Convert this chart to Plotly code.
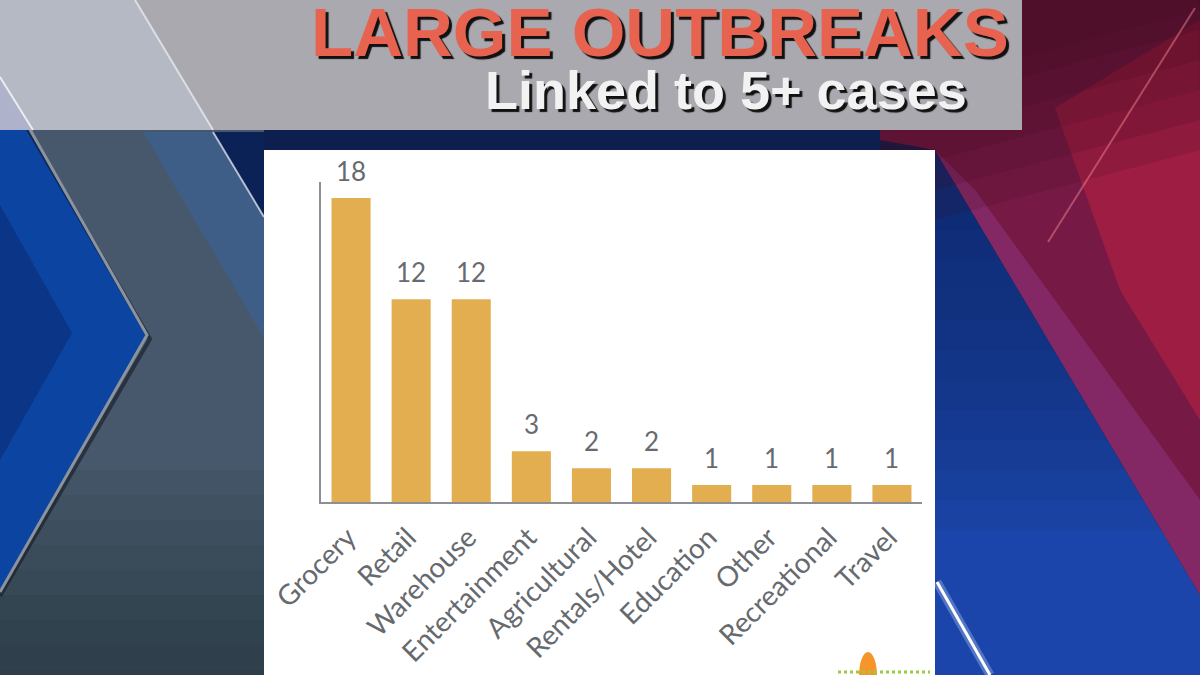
import plotly.graph_objects as go

categories = ["Grocery", "Retail", "Warehouse", "Entertainment", "Agricultural",
              "Rentals/Hotel", "Education", "Other", "Recreational", "Travel"]
outbreaks = [18, 12, 12, 3, 2, 2, 1, 1, 1, 1]
title_text = "LARGE OUTBREAKS"
subtitle_text = "Linked to 5+ cases"

W, H = 1200, 675
L, R, T, B = 321, 278, 182, 173
PW = W - L - R
PH = H - T - B


def px(x):
    return (x - L) / PW


def py(y):
    return (H - B - y) / PH


def poly(pts, color, opacity=1.0):
    d = "M " + " L ".join(f"{px(x):.5f},{py(y):.5f}" for x, y in pts) + " Z"
    return dict(type="path", xref="paper", yref="paper", path=d, fillcolor=color,
                line=dict(width=0), layer="below", opacity=opacity)


def polyline(pts, color, width):
    d = "M " + " L ".join(f"{px(x):.5f},{py(y):.5f}" for x, y in pts)
    return dict(type="path", xref="paper", yref="paper", path=d,
                fillcolor="rgba(0,0,0,0)", line=dict(color=color, width=width), layer="below")


def rect(x0, y0, x1, y1, color, opacity=1.0):
    return dict(type="rect", xref="paper", yref="paper", x0=px(x0), y0=py(y0), x1=px(x1), y1=py(y1),
                fillcolor=color, line=dict(width=0), layer="below", opacity=opacity)


def seg(x0, y0, x1, y1, color, width):
    return dict(type="line", xref="paper", yref="paper", x0=px(x0), y0=py(y0), x1=px(x1), y1=py(y1),
                line=dict(color=color, width=width), layer="below")


# blue/red boundary on the right: from (935,150) to (1200,595)
def bx(y):
    return 935 + (y - 150) * (265 / 445)


shapes = [rect(0, 0, 1200, 675, "#0C1F4E")]
# right side blue with gradient (dark near top)
shapes.append(poly([(935, 150), (1200, 595), (1200, 675), (935, 675)], "#1B45AA"))
for yb in range(200, 560, 30):
    shapes.append(poly([(935, 150), (bx(yb), yb), (935, yb)], "#0A1E5A", 0.085))
# red region
shapes.append(poly([(880, 0), (1200, 0), (1200, 595), (935, 150), (880, 140)], "#761A45"))
shapes.append(poly([(975, 190), (1200, 500), (1200, 595), (935, 150)], "#862A68", 0.9))
shapes.append(poly([(1055, 108), (1200, 20), (1200, 420), (1120, 290)], "#A31E43", 0.9))
for yb in (150, 120, 90, 60, 30, 10):
    shapes.append(poly([(880, 0), (1200, 0), (1200, yb), (935, yb + 70), (880, yb + 60)],
                       "#3E0A1C", 0.16))
shapes += [
    seg(1048, 242, 1195, 8, "rgba(255,140,150,0.45)", 2),
    seg(937, 582, 990, 675, "rgba(190,205,255,0.35)", 9),
    seg(937, 582, 990, 675, "#FFFFFF", 3),
]
# left side
shapes.append(rect(0, 130, 264, 675, "#47586C"))
for yb in range(470, 675, 25):
    shapes.append(rect(0, yb, 264, 675, "#101A2A", 0.06))
shapes += [
    poly([(143, 132), (213, 132), (264, 217), (264, 338)], "#3E5E88"),
    poly([(213, 132), (264, 132), (264, 217)], "#0B2256"),
    poly([(0, 77), (147, 335), (0, 592)], "#0C44A2"),
    poly([(0, 205), (72, 333), (0, 460)], "#0B3586"),
    polyline([(0, 81), (150, 339), (0, 596)], "rgba(20,25,35,0.6)", 4),
    polyline([(0, 77), (147, 335), (0, 592)], "#8B939C", 3),
    polyline([(213, 132), (264, 217)], "rgba(220,225,235,0.8)", 2),
]
# title band
shapes += [
    rect(0, 0, 1022, 130, "#A9A9AF"),
    poly([(0, 0), (135, 0), (213, 130), (33, 130), (0, 77)], "#B4B9C3"),
    poly([(0, 77), (33, 130), (0, 130)], "#AEB3CB"),
    polyline([(0, 77), (33, 130)], "rgba(240,242,248,0.9)", 2),
    polyline([(135, 0), (213, 130)], "rgba(230,235,240,0.8)", 2),
]
# white panel
shapes += [
    rect(264, 150, 935, 675, "#FFFFFF"),
    dict(type="circle", xref="paper", yref="paper", x0=px(859), y0=py(652), x1=px(877), y1=py(700),
         fillcolor="#F5962A", line=dict(width=0), layer="below"),
    dict(type="line", xref="paper", yref="paper", x0=px(838), y0=py(672), x1=px(930), y1=py(672),
         line=dict(color="#9BCB3C", width=3, dash="dot"), layer="below"),
]

fig = go.Figure(
    go.Bar(
        x=categories,
        y=outbreaks,
        width=0.65,
        marker=dict(color="#E3AE50", line=dict(width=0)),
        hoverinfo="skip",
    )
)

value_labels = [
    dict(x=c, y=v, xref="x", yref="y", text=str(v), showarrow=False,
         xanchor="center", yanchor="bottom", yshift=9,
         font=dict(family="Lato", size=26, color="#676B70"))
    for c, v in zip(categories, outbreaks)
]

fig.update_layout(
    width=W, height=H,
    margin=dict(l=L, r=R, t=T, b=B, pad=0, autoexpand=False),
    paper_bgcolor="#0C1F4E",
    plot_bgcolor="rgba(0,0,0,0)",
    showlegend=False,
    shapes=shapes,
    xaxis=dict(
        range=[-0.5, 9.5], showline=True, linecolor="#8C9096", linewidth=2,
        showgrid=False, zeroline=False, tickangle=-45, ticks="", automargin=False,
        ticklabelstandoff=6, ticklabelshift=-3,
        tickfont=dict(family="Lato", size=28, color="#666A6F"),
    ),
    yaxis=dict(
        range=[0, 18.95], showline=True, linecolor="#8C9096", linewidth=2, automargin=False,
        showgrid=False, zeroline=False, showticklabels=False, ticks="",
    ),
    annotations=value_labels + [
        dict(text=title_text, xref="paper", yref="paper", x=px(660), y=py(32),
             xanchor="center", yanchor="middle", showarrow=False,
             font=dict(family="Liberation Sans", size=69, color="#E8634F", weight=700,
                       shadow="3px 3px 1px rgba(0,0,0,0.9)")),
        dict(text=subtitle_text, xref="paper", yref="paper", x=px(726), y=py(90),
             xanchor="center", yanchor="middle", showarrow=False,
             font=dict(family="Liberation Sans", size=54, color="#F2F2F2", weight=700,
                       shadow="3px 3px 1px rgba(0,0,0,0.9)")),
    ],
)

fig.write_html("out.html", config={"displayModeBar": False},
               post_script="document.body.style.margin='0';document.body.style.overflow='hidden';")
